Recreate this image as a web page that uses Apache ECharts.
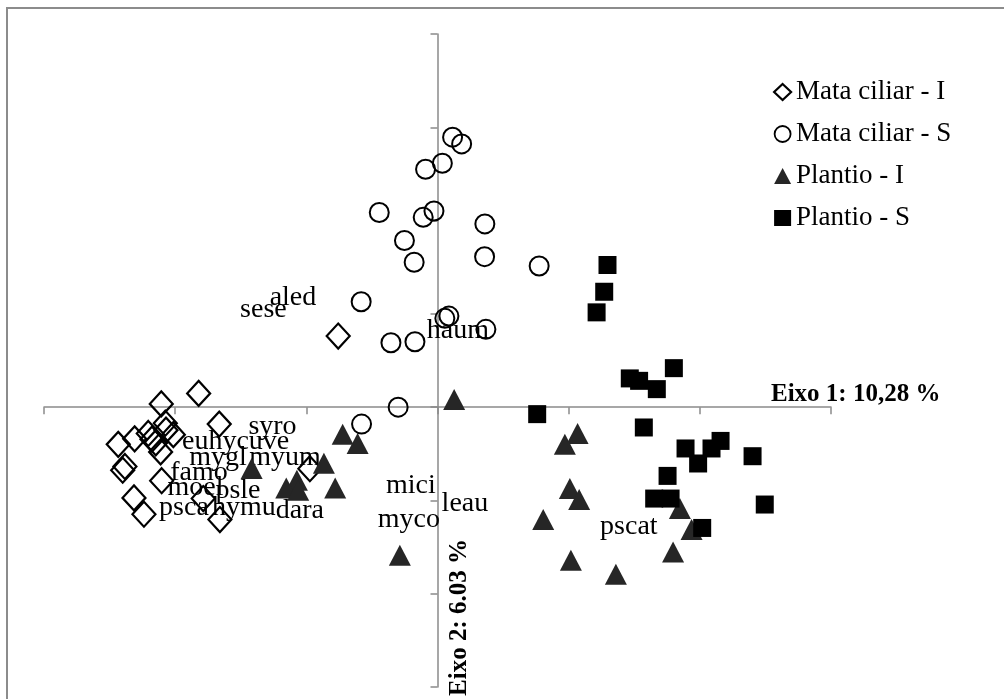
<!DOCTYPE html>
<html>
<head>
<meta charset="utf-8">
<script src="https://cdn.jsdelivr.net/npm/echarts@6/dist/echarts.min.js"></script>
<style>
  html, body { margin: 0; padding: 0; background: #ffffff; }
  #chart { width: 1004px; height: 699px; }
</style>
</head>
<body>
<div id="chart"></div>
<script>
// Ordination scores (axis 1, axis 2) for each sample group
const mataCiliarI = [
  [-1.821, 0.147], [-2.106, 0.035], [-1.664, -0.182], [-2.075, -0.172],
  [-2.014, -0.295], [-2.205, -0.282], [-2.309, -0.340], [-2.434, -0.399],
  [-2.148, -0.383], [-2.111, -0.480], [-2.383, -0.636], [-2.400, -0.676],
  [-2.103, -0.789], [-2.314, -0.973], [-2.238, -1.148], [-1.786, -0.980],
  [-1.659, -1.205], [-0.973, -0.660], [-0.757, 0.762], [-2.070, -0.247],
  [-2.177, -0.343]
];
const mataCiliarS = [
  [0.115, 2.894], [0.184, 2.822], [0.037, 2.615], [-0.091, 2.550],
  [-0.444, 2.087], [-0.027, 2.103], [-0.109, 2.035], [0.361, 1.964],
  [-0.252, 1.786], [-0.178, 1.553], [0.359, 1.613], [0.775, 1.513],
  [-0.582, 1.130], [0.087, 0.976], [0.056, 0.952], [0.369, 0.834],
  [-0.355, 0.690], [-0.172, 0.701], [-0.300, 0.000], [-0.579, -0.182]
];
const plantioI = [
  [-0.723, -0.290], [-0.609, -0.389], [-1.417, -0.658], [-0.866, -0.601],
  [-1.072, -0.783], [-1.153, -0.867], [-1.062, -0.891], [-0.780, -0.867],
  [-0.287, -1.588], [0.127, 0.083], [1.068, -0.282], [0.971, -0.397],
  [1.009, -0.872], [1.080, -0.990], [0.806, -1.205], [1.848, -1.087],
  [1.937, -1.312], [1.796, -1.553], [1.017, -1.642], [1.360, -1.792]
];
const plantioS = [
  [1.296, 1.524], [1.271, 1.237], [1.213, 1.016], [1.466, 0.308],
  [1.537, 0.282], [1.672, 0.193], [1.802, 0.418], [0.760, -0.075],
  [1.573, -0.218], [1.891, -0.443], [1.987, -0.604], [2.089, -0.443],
  [2.158, -0.362], [2.402, -0.526], [1.754, -0.737], [1.652, -0.980],
  [1.777, -0.980], [2.495, -1.044], [2.018, -1.295]
];

// Species codes placed in the ordination space
const speciesNames = ['aled', 'sese', 'haum', 'syro', 'euhycuve', 'mygl', 'myum', 'famo',
  'moel', 'psle', 'psca', 'hymu', 'dara', 'mici', 'leau', 'myco', 'pscat'];
const speciesX = [-1.102, -1.327, 0.155, -1.258, -1.539, -1.674, -1.163, -1.819,
  -1.845, -1.521, -1.933, -1.476, -1.049, -0.203, 0.209, -0.218, 1.459];
const speciesY = [1.170, 1.041, 0.815, -0.204, -0.365, -0.544, -0.544, -0.697,
  -0.866, -0.891, -1.073, -1.073, -1.105, -0.837, -1.038, -1.205, -1.284];

const groupNames = ['Mata ciliar - I', 'Mata ciliar - S', 'Plantio - I', 'Plantio - S'];
const axisNames = ['Eixo 1: 10,28 %', 'Eixo 2: 6.03 %'];

const serif = '"Liberation Serif", "DejaVu Serif", serif';
const axisGray = '#8a8a8a';

const chart = echarts.init(document.getElementById('chart'), null, { renderer: 'canvas' });

const speciesData = speciesNames.map((n, i) => ({ name: n, value: [speciesX[i], speciesY[i]] }));

const axisCommon = {
  type: 'value',
  interval: 1,
  splitLine: { show: false },
  axisLabel: { show: false },
  axisLine: { show: true, onZero: true, lineStyle: { color: axisGray, width: 1.5 } },
  axisTick: { show: true, length: 7, lineStyle: { color: axisGray, width: 1.5 } }
};

const option = {
  backgroundColor: '#ffffff',
  animation: false,
  grid: { left: 44, right: 173, top: 34, bottom: 12 },
  xAxis: Object.assign({}, axisCommon, { min: -3, max: 3 }),
  yAxis: Object.assign({}, axisCommon, { min: -3, max: 4 }),
  legend: {
    orient: 'vertical',
    left: 773,
    top: 78,
    padding: 0,
    itemWidth: 17,
    itemHeight: 16,
    itemGap: 14,
    textStyle: { fontFamily: serif, fontSize: 27, color: '#000', lineHeight: 28 },
    data: [
      { name: groupNames[0], icon: 'diamond', itemStyle: { color: 'transparent', borderColor: '#000', borderWidth: 2.2, opacity: 1 } },
      { name: groupNames[1], icon: 'circle', itemStyle: { color: 'transparent', borderColor: '#000', borderWidth: 1.8, opacity: 1 } },
      { name: groupNames[2], icon: 'triangle', itemStyle: { color: '#262626', opacity: 1 } },
      { name: groupNames[3], icon: 'rect', itemStyle: { color: '#000', opacity: 1 } }
    ]
  },
  graphic: [
    {
      type: 'rect', silent: true, z: 0,
      shape: { x: 7, y: 8, width: 1100, height: 800 },
      style: { fill: 'none', stroke: '#8c8c8c', lineWidth: 2 }
    },
    {
      type: 'text', silent: true, z: 10,
      x: 771, y: 394.5,
      style: { text: axisNames[0], font: 'bold 25px ' + serif, fill: '#000',
        textAlign: 'left', textVerticalAlign: 'middle' }
    },
    {
      type: 'text', silent: true, z: 10,
      x: 460, y: 617.5, rotation: Math.PI / 2,
      style: { text: axisNames[1], font: 'bold 25px ' + serif, fill: '#000',
        textAlign: 'center', textVerticalAlign: 'middle' }
    }
  ],
  series: [
    {
      name: 'species', type: 'scatter', z: 1,
      symbolSize: 0,
      itemStyle: { opacity: 1 },
      data: speciesData,
      label: {
        show: true, position: 'inside',
        formatter: p => p.name,
        fontFamily: serif, fontSize: 28, color: '#000'
      },
      emphasis: { disabled: true }
    },
    {
      name: groupNames[0], type: 'scatter', z: 2,
      symbol: 'diamond', symbolSize: [23, 25],
      itemStyle: { color: 'transparent', borderColor: '#000', borderWidth: 2.2, opacity: 1 },
      data: mataCiliarI
    },
    {
      name: groupNames[1], type: 'scatter', z: 2,
      symbol: 'circle', symbolSize: 19,
      itemStyle: { color: 'transparent', borderColor: '#000', borderWidth: 2, opacity: 1 },
      data: mataCiliarS
    },
    {
      name: groupNames[2], type: 'scatter', z: 2,
      symbol: 'triangle', symbolSize: [22, 21],
      itemStyle: { color: '#262626', opacity: 1 },
      data: plantioI
    },
    {
      name: groupNames[3], type: 'scatter', z: 2,
      symbol: 'rect', symbolSize: 18,
      itemStyle: { color: '#000', opacity: 1 },
      data: plantioS
    }
  ]
};

chart.setOption(option);
</script>
</body>
</html>
